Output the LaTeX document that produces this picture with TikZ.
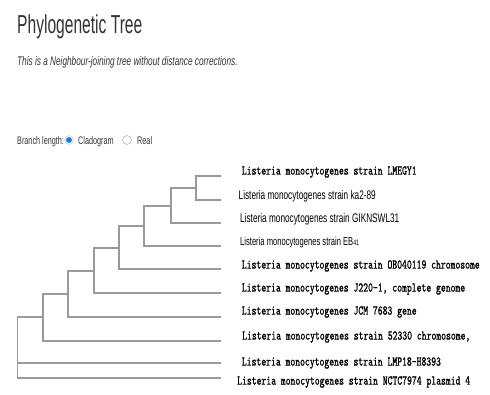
\documentclass[tikz,border=0pt]{standalone}
\usepackage{fontspec}
\setmainfont[FakeStretch=0.66]{Liberation Sans}
\newfontfamily\treesans[FakeStretch=0.66]{Liberation Sans}
\newfontfamily\titlesans[FakeStretch=0.6]{Liberation Sans}
\newfontfamily\treemono[Extension=.otf,FakeStretch=0.69,FakeBold=0.9]{lmmono10-regular}
\definecolor{branchgray}{HTML}{9A9A9A}
\definecolor{titlegray}{HTML}{333333}
\definecolor{radioblue}{HTML}{1C7CE0}
\tikzset{
  branch/.style={draw=branchgray, line width=2.2pt},
  monolbl/.style={anchor=west, inner sep=0pt, font=\treemono\fontsize{13.4}{15}\selectfont},
  sanslbl/.style={anchor=west, inner sep=0pt, font=\treesans\fontsize{12.5}{14}\selectfont},
}
\begin{document}
\begin{tikzpicture}[x=1pt,y=-1pt]
\useasboundingbox (0,0) rectangle (490,394);
% header
\node[anchor=base west, inner sep=0pt, text=titlegray, font=\titlesans\fontsize{26}{30}\selectfont] (title) at (17,33) {Phylogenetic Tree};
\node[anchor=base west, inner sep=0pt, text=titlegray, font=\itshape\fontsize{12.5}{14}\selectfont] (subtitle) at (17,65) {This is a Neighbour-joining tree without distance corrections.};
\node[anchor=base west, inner sep=0pt, text=titlegray, font=\fontsize{11}{13}\selectfont] (blen) at (17,144) {Branch length:};
\node[circle, draw=branchgray!60, fill=white, minimum size=9pt, inner sep=0pt] (rclado) at (69,140) {};
\node[circle, fill=radioblue, minimum size=6pt, inner sep=0pt] (rcladodot) at (69,140) {};
\node[anchor=base west, inner sep=0pt, text=titlegray, font=\fontsize{11}{13}\selectfont] (clado) at (78,144) {Cladogram};
\node[circle, draw=branchgray, minimum size=9pt, inner sep=0pt] (rreal) at (127,140) {};
\node[anchor=base west, inner sep=0pt, text=titlegray, font=\fontsize{11}{13}\selectfont] (real) at (137,144) {Real};
% leaves
\coordinate (l1) at (221,175.7);
\coordinate (l2) at (221,200);
\coordinate (l3) at (221,223.3);
\coordinate (l4) at (221,246);
\coordinate (l5) at (221,269.3);
\coordinate (l6) at (221,293.3);
\coordinate (l7) at (221,316.7);
\coordinate (l8) at (221,340.7);
\coordinate (l9) at (221,363.3);
\coordinate (l10) at (221,378.3);
% inner nodes
\coordinate (n8) at (195.7,188);
\coordinate (n7) at (170.7,205.7);
\coordinate (n6) at (144.3,226);
\coordinate (n5) at (119,248);
\coordinate (n4) at (94,271);
\coordinate (n3) at (68.3,294);
\coordinate (n2) at (42.7,317);
\coordinate (root) at (17.3,317);
% branches
\draw[branch] (n8) |- (l1);
\draw[branch] (n8) |- (l2);
\draw[branch] (n7) |- (n8);
\draw[branch] (n7) |- (l3);
\draw[branch] (n6) |- (n7);
\draw[branch] (n6) |- (l4);
\draw[branch] (n5) |- (n6);
\draw[branch] (n5) |- (l5);
\draw[branch] (n4) |- (n5);
\draw[branch] (n4) |- (l6);
\draw[branch] (n3) |- (n4);
\draw[branch] (n3) |- (l7);
\draw[branch] (n2) |- (n3);
\draw[branch] (n2) |- (l8);
\draw[draw=branchgray, line width=0.9pt] (root) -- (root |- l10);
\draw[branch] (root) -- (n2);
\draw[branch] (root |- l9) -- (l9);
\draw[branch] (root |- l10) -- (l10);
% labels
\node[monolbl] (t1) at (241.7,172) {Listeria monocytogenes strain LMEGY1};
\node[sanslbl] (t2) at (238.5,196) {Listeria monocytogenes strain ka2-89};
\node[sanslbl] (t3) at (240,219.5) {Listeria monocytogenes strain GIKNSWL31};
\node[sanslbl, font=\treesans\fontsize{11.5}{13}\selectfont] (t4) at (240,242.5) {Listeria monocytogenes strain EB{\fontsize{8}{9}\selectfont 41}};
\node[monolbl] (t5) at (241.7,266) {Listeria monocytogenes strain OB040119 chromosome};
\node[monolbl] (t6) at (241.7,289) {Listeria monocytogenes J220-1, complete genome};
\node[monolbl] (t7) at (241.7,312) {Listeria monocytogenes JCM 7683 gene};
\node[monolbl] (t8) at (242,337) {Listeria monocytogenes strain 52330 chromosome,};
\node[monolbl] (t9) at (241.7,363) {Listeria monocytogenes strain LMP18-H8393};
\node[monolbl] (t10) at (237,382) {Listeria monocytogenes strain NCTC7974 plasmid 4};
\end{tikzpicture}
\end{document}
